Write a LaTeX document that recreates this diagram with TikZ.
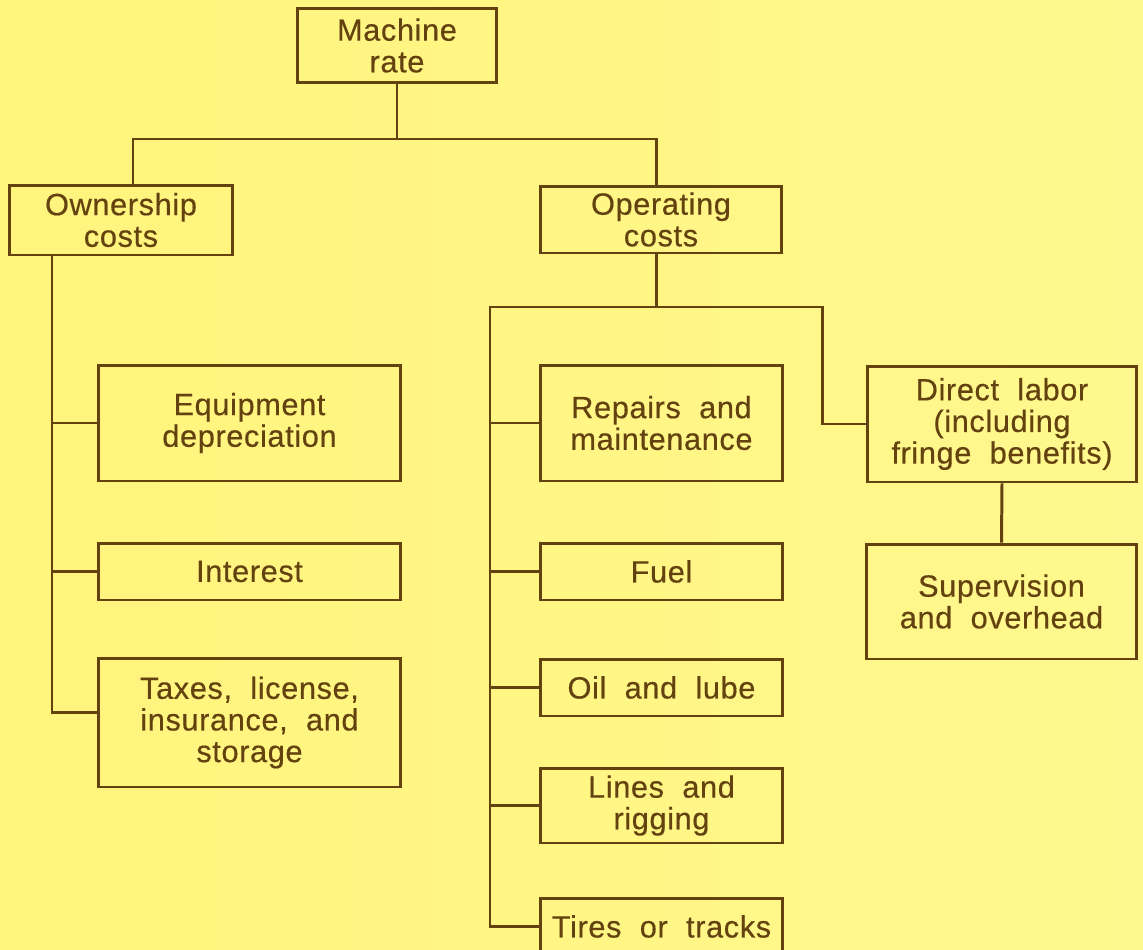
\documentclass[tikz,border=0pt]{standalone}
\usepackage{fontspec}
\setmainfont{Liberation Sans}[LetterSpace=2,WordSpace=2,FakeBold=0.4]
\definecolor{paper}{HTML}{FFF47C}
\definecolor{paperlight}{HTML}{FFF88E}
\definecolor{ink}{HTML}{634210}
\begin{document}
\begin{tikzpicture}[x=0.02cm, y=-0.02cm,
        costbox/.style={draw=ink, line width=1.7pt, text=ink, align=center, inner sep=0pt,
            font=\fontsize{17.5}{18}\selectfont},
        link/.style={draw=ink, line width=1.7pt}]
        \clip (0,0) rectangle (1143,950);
        \shade[left color=paper, right color=paperlight] (0,0) rectangle (1143,950);
        % top levels
        \node[costbox, minimum width=4cm, minimum height=1.5cm] (rate) at (397,45.5) {Machine\\rate};
        \node[costbox, minimum width=4.48cm, minimum height=1.4cm] (own) at (121,220) {Ownership\\costs};
        \node[costbox, minimum width=4.84cm, minimum height=1.34cm] (oper) at (661,219.5) {Operating\\costs};
        % ownership items
        \node[costbox, minimum width=6.06cm, minimum height=2.32cm] (equip) at (249.5,423) {Equipment\\depreciation};
        \node[costbox, minimum width=6.06cm, minimum height=1.14cm] (inter) at (249.5,571.5) {Interest};
        \node[costbox, minimum width=6.06cm, minimum height=2.58cm] (taxes) at (249.5,722.5) {Taxes, license,\\insurance, and\\storage};
        % operating items
        \node[costbox, minimum width=4.86cm, minimum height=2.32cm] (repair) at (661.5,423) {Repairs and\\maintenance};
        \node[costbox, minimum width=4.86cm, minimum height=1.14cm] (fuel) at (661.5,571.5) {Fuel};
        \node[costbox, minimum width=4.86cm, minimum height=1.14cm] (oil) at (661.5,687.5) {Oil and lube};
        \node[costbox, minimum width=4.86cm, minimum height=1.5cm] (lines) at (661.5,805.5) {Lines and\\rigging};
        \node[costbox, minimum width=4.86cm, minimum height=1.14cm] (tires) at (661.5,926.5) {Tires or tracks};
        \node[costbox, minimum width=5.4cm, minimum height=2.32cm] (labor) at (1002,424) {Direct labor\\(including\\fringe benefits)};
        \node[costbox, minimum width=5.42cm, minimum height=2.3cm] (super) at (1001.5,601.5) {Supervision\\and overhead};
        % junction points
        \coordinate (topl) at (133,139);
        \coordinate (topr) at (656,139);
        \coordinate (ownx) at (52,0);
        \coordinate (busl) at (490,307);
        \coordinate (busr) at (822,307);
        % connectors
        \draw[link] (rate.south) -- (rate.south |- topl);
        \draw[link] (own.north -| topl) -- (topl) -- (topr) -- (oper.north -| topr);
        \draw[link] (own.south -| ownx) |- ([yshift=0.21cm]taxes.west);
        \draw[link] (ownx |- equip.west) -- (equip.west);
        \draw[link] (ownx |- inter.west) -- (inter.west);
        \draw[link] (oper.south -| topr) -- (topr |- busl);
        \draw[link] (tires.west) -| (busl) -- (busr) |- (labor.west);
        \foreach \item in {repair, fuel, oil, lines}
            \draw[link] (busl |- \item.west) -- (\item.west);
        \draw[link] (labor.south) -- (super.north);
\end{tikzpicture}
\end{document}
